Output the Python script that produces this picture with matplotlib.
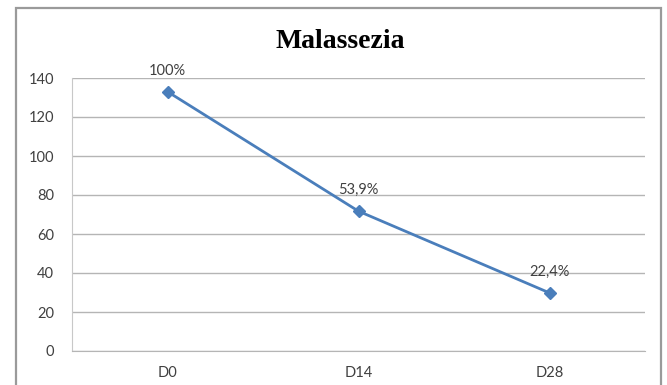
import matplotlib
matplotlib.use("Agg")
import matplotlib.pyplot as plt
from matplotlib.patches import Rectangle

days = ["D0", "D14", "D28"]
counts = [133, 71.7, 29.8]
pct_labels = ["100%", "53,9%", "22,4%"]
y_ticks = [0, 20, 40, 60, 80, 100, 120, 140]

fig = plt.figure(figsize=(6.67, 3.85), dpi=100)
fig.patch.set_facecolor("white")

# outer chart frame (runs past the bottom edge)
fig.patches.append(Rectangle((16 / 667, -0.05), (661 - 16) / 667, 1.05 - 8 / 385,
                             transform=fig.transFigure, fill=False,
                             edgecolor="#9a9a9a", linewidth=1.6))

ax = fig.add_axes([72 / 667, 1 - 351 / 385, (645 - 72) / 667, (351 - 78) / 385])

x = list(range(len(days)))
ax.plot(x, counts, color="#4a7ebb", linewidth=2.0, marker="D", markersize=6.5,
        markerfacecolor="#4a7ebb", markeredgecolor="#4a7ebb", zorder=3)

for xi, yi, lab in zip(x, counts, pct_labels):
    ax.annotate(lab, (xi, yi), xytext=(0, 15), textcoords="offset points",
                ha="center", va="center", fontsize=10.5, color="#404040",
                family="Lato")

ax.set_xlim(-0.5, 2.5)
ax.set_ylim(0, 140)
ax.set_yticks(y_ticks)
ax.set_xticks(x)
ax.set_xticklabels(days)
ax.yaxis.grid(True, color="#b5b5b5", linewidth=1.0)
ax.set_axisbelow(True)

for s in ["top", "right"]:
    ax.spines[s].set_visible(False)
ax.spines["left"].set_color("#c8c8c8")
ax.spines["bottom"].set_color("#b5b5b5")
ax.tick_params(length=0, labelsize=10.5, labelcolor="#404040")
ax.tick_params(axis="y", pad=13)
ax.tick_params(axis="x", pad=11)
for t in ax.get_xticklabels() + ax.get_yticklabels():
    t.set_family("Lato")

fig.text(340 / 667, 1 - 48 / 385, "Malassezia", ha="center", va="baseline",
         fontsize=20, fontweight="bold", family="Liberation Serif", color="black")

fig.savefig("out.png", dpi=100)
